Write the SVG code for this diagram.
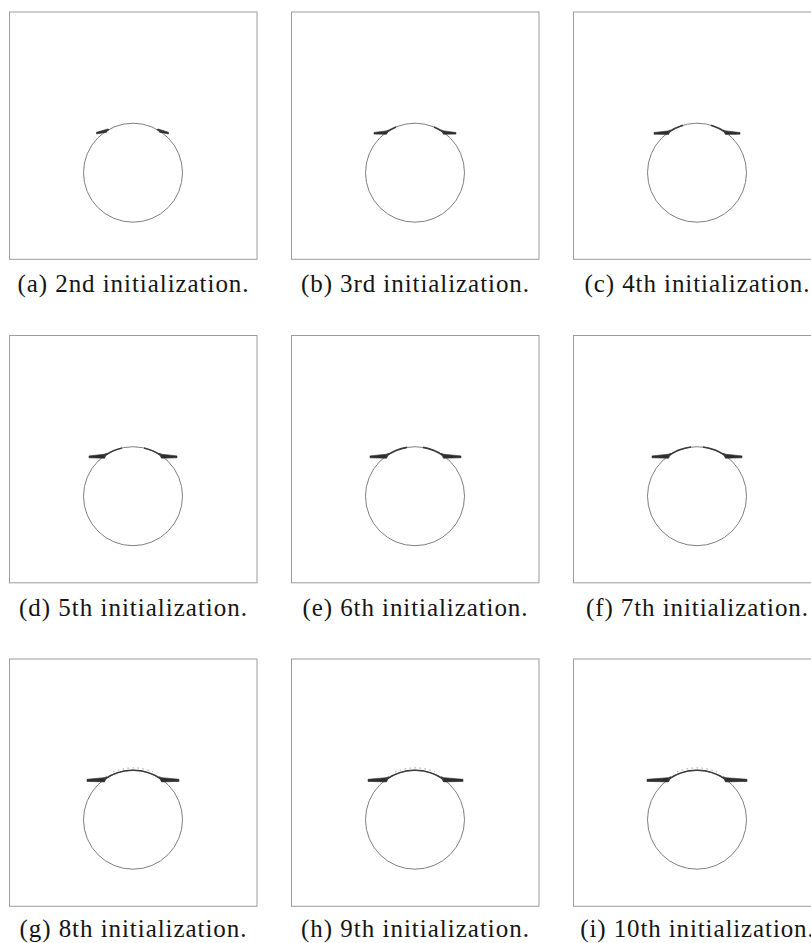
<svg xmlns="http://www.w3.org/2000/svg" width="811" height="943" viewBox="0 0 811 943">
<style>
.box{fill:none;stroke:#9c9c9c;stroke-width:1}
.circ{fill:none;stroke:#808080;stroke-width:1}
.wing{fill:#2e2e2e;stroke:#2e2e2e;stroke-width:0.6;stroke-linejoin:round}
.arc{fill:none;stroke:#3a3a3a;stroke-width:1.6}
.speck{fill:none;stroke:#a0a0a0;stroke-width:1;stroke-dasharray:1.5 3.5}
.cap{font-family:"Liberation Serif","DejaVu Serif",serif;font-size:25px;fill:#151515;text-anchor:middle}
</style>
<rect width="811" height="943" fill="#fff"/>

<g id="panel-a">
<rect class="box" x="9.5" y="12" width="247.5" height="247.3"/>
<g transform="translate(133,172.7)">
<circle class="circ" r="49.5"/>
<path class="wing" d="M -36.5,-40.4 L -25,-43.8 L -26.5,-40.4 L -36.5,-38.8 Z"/>
<path class="wing" d="M 35.5,-40.4 L 25,-43.8 L 26.5,-40.4 L 35.5,-38.8 Z"/>
<path class="arc" d="M -29,-40.1 A 49.5 49.5 0 0 1 -24,-43.29"/>
<path class="arc" d="M 29,-40.1 A 49.5 49.5 0 0 0 24,-43.29"/>
</g>
<text class="cap" x="133" y="291.5" textLength="231" lengthAdjust="spacing">(a) 2nd initialization.</text>
</g>

<g id="panel-b">
<rect class="box" x="291.5" y="12" width="247.5" height="247.3"/>
<g transform="translate(415,172.7)">
<circle class="circ" r="49.5"/>
<path class="wing" d="M -41,-40.2 L -29,-41.8 L -26,-42.8 L -28.5,-38.4 L -41,-38.6 Z"/>
<path class="wing" d="M 41,-40.2 L 29,-41.8 L 26,-42.8 L 28.5,-38.4 L 41,-38.6 Z"/>
<path class="arc" d="M -29,-40.1 A 49.5 49.5 0 0 1 -19,-45.71"/>
<path class="arc" d="M 29,-40.1 A 49.5 49.5 0 0 0 19,-45.71"/>
</g>
<text class="cap" x="415" y="291.5" textLength="228" lengthAdjust="spacing">(b) 3rd initialization.</text>
</g>

<g id="panel-c">
<rect class="box" x="573.5" y="12" width="247.5" height="247.3"/>
<g transform="translate(697,172.7)">
<circle class="circ" r="49.5"/>
<path class="wing" d="M -43,-40.2 L -29,-41.8 L -26,-42.8 L -28.5,-38.2 L -43,-38.5 Z"/>
<path class="wing" d="M 43,-40.2 L 29,-41.8 L 26,-42.8 L 28.5,-38.2 L 43,-38.5 Z"/>
<path class="arc" d="M -29,-40.1 A 49.5 49.5 0 0 1 -14,-47.48"/>
<path class="arc" d="M 29,-40.1 A 49.5 49.5 0 0 0 14,-47.48"/>
</g>
<text class="cap" x="697" y="291.5" textLength="225" lengthAdjust="spacing">(c) 4th initialization.</text>
</g>

<g id="panel-d">
<rect class="box" x="9.5" y="335.5" width="247.5" height="247.3"/>
<g transform="translate(133,496.2)">
<circle class="circ" r="49.5"/>
<path class="wing" d="M -44,-40.3 L -29,-41.9 L -26,-42.9 L -28.5,-38 L -44,-38.4 Z"/>
<path class="wing" d="M 44,-40.3 L 29,-41.9 L 26,-42.9 L 28.5,-38 L 44,-38.4 Z"/>
<path class="arc" d="M -29,-40.1 A 49.5 49.5 0 0 1 -11,-48.26"/>
<path class="arc" d="M 29,-40.1 A 49.5 49.5 0 0 0 11,-48.26"/>
</g>
<text class="cap" x="133" y="615.5" textLength="228" lengthAdjust="spacing">(d) 5th initialization.</text>
</g>

<g id="panel-e">
<rect class="box" x="291.5" y="335.5" width="247.5" height="247.3"/>
<g transform="translate(415,496.2)">
<circle class="circ" r="49.5"/>
<path class="wing" d="M -45,-40.3 L -29,-41.9 L -26,-42.9 L -28.5,-38 L -45,-38.4 Z"/>
<path class="wing" d="M 46,-40.3 L 29,-41.9 L 26,-42.9 L 28.5,-38 L 46,-38.4 Z"/>
<path class="arc" d="M -29,-40.1 A 49.5 49.5 0 0 1 -8,-48.85"/>
<path class="arc" d="M 29,-40.1 A 49.5 49.5 0 0 0 8,-48.85"/>
</g>
<text class="cap" x="415" y="615.5" textLength="225" lengthAdjust="spacing">(e) 6th initialization.</text>
</g>

<g id="panel-f">
<rect class="box" x="573.5" y="335.5" width="247.5" height="247.3"/>
<g transform="translate(697,496.2)">
<circle class="circ" r="49.5"/>
<path class="wing" d="M -45,-40.3 L -29,-41.9 L -26,-42.9 L -28.5,-38 L -45,-38.4 Z"/>
<path class="wing" d="M 45,-40.3 L 29,-41.9 L 26,-42.9 L 28.5,-38 L 45,-38.4 Z"/>
<path class="arc" d="M -29,-40.1 A 49.5 49.5 0 0 1 -6,-49.13"/>
<path class="arc" d="M 29,-40.1 A 49.5 49.5 0 0 0 6,-49.13"/>
</g>
<text class="cap" x="697" y="615.5" textLength="222" lengthAdjust="spacing">(f) 7th initialization.</text>
</g>

<g id="panel-g">
<rect class="box" x="9.5" y="659" width="247.5" height="247.3"/>
<g transform="translate(133,819.7)">
<circle class="circ" r="49.5"/>
<path class="wing" d="M -46,-40.4 L -29,-42 L -26,-43 L -28.5,-37.8 L -46,-38.3 Z"/>
<path class="wing" d="M 46,-40.4 L 29,-42 L 26,-43 L 28.5,-37.8 L 46,-38.3 Z"/>
<path class="arc" d="M -29,-40.1 A 49.5 49.5 0 0 1 29,-40.1"/>
<path class="speck" d="M -20,-47.8 A 51.7 51.7 0 0 1 20,-47.8"/>
</g>
<text class="cap" x="133" y="937" textLength="227" lengthAdjust="spacing">(g) 8th initialization.</text>
</g>

<g id="panel-h">
<rect class="box" x="291.5" y="659" width="247.5" height="247.3"/>
<g transform="translate(415,819.7)">
<circle class="circ" r="49.5"/>
<path class="wing" d="M -47,-40.4 L -29,-42 L -26,-43 L -28.5,-37.8 L -47,-38.3 Z"/>
<path class="wing" d="M 48,-40.4 L 29,-42 L 26,-43 L 28.5,-37.8 L 48,-38.3 Z"/>
<path class="arc" d="M -29,-40.1 A 49.5 49.5 0 0 1 29,-40.1"/>
<path class="speck" d="M -20,-47.8 A 51.7 51.7 0 0 1 20,-47.8"/>
</g>
<text class="cap" x="415" y="937" textLength="228" lengthAdjust="spacing">(h) 9th initialization.</text>
</g>

<g id="panel-i">
<rect class="box" x="573.5" y="659" width="247.5" height="247.3"/>
<g transform="translate(697,819.7)">
<circle class="circ" r="49.5"/>
<path class="wing" d="M -50,-40.4 L -29,-42 L -26,-43 L -28.5,-37.8 L -50,-38.3 Z"/>
<path class="wing" d="M 50,-40.4 L 29,-42 L 26,-43 L 28.5,-37.8 L 50,-38.3 Z"/>
<path class="arc" d="M -29,-40.1 A 49.5 49.5 0 0 1 29,-40.1"/>
<path class="speck" d="M -20,-47.8 A 51.7 51.7 0 0 1 20,-47.8"/>
</g>
<text class="cap" x="697" y="937" textLength="233.5" lengthAdjust="spacing">(i) 10th initialization.</text>
</g>
</svg>
